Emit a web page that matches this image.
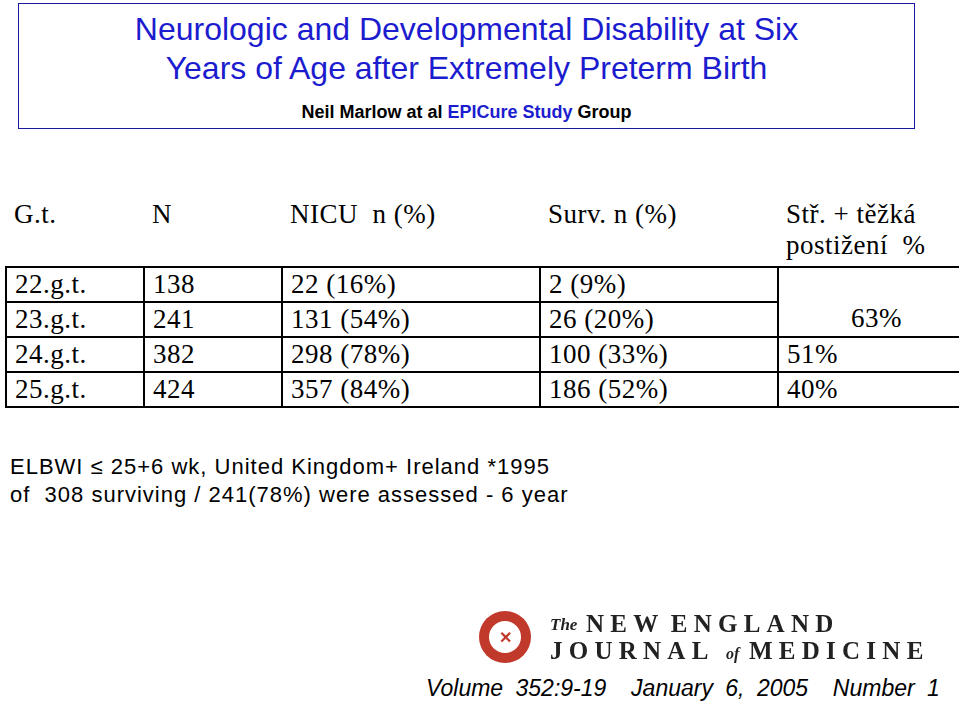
<!DOCTYPE html>
<html><head><meta charset="utf-8">
<script src="https://cdn.jsdelivr.net/npm/chart.js@4"></script>
<style>
body{margin:0;width:959px;height:705px;background:#fff;position:relative;overflow:hidden;font-family:"Liberation Sans",Arial,sans-serif}
#tbox{position:absolute;left:18px;top:3px;width:895px;height:124px;border:1.5px solid #1a1aa0;text-align:center}
#t1{color:#1c1ccf;font-size:32px;line-height:39px;margin-top:6px}
#t2{font-size:18px;font-weight:bold;margin-top:14px}
table{position:absolute;left:5px;top:199px;border-collapse:collapse;table-layout:fixed;width:925px;font-family:"Liberation Serif","Times New Roman",serif;font-size:27px;letter-spacing:0.5px}
td{border:2px solid #000;padding:0 0 0 8px;height:33px;vertical-align:middle;white-space:nowrap}
tr.h td{border:none;height:67px;vertical-align:top;padding-top:0;white-space:normal}
.txt{position:absolute;left:10px;font-size:22px;letter-spacing:1px}
#logo{position:absolute;left:474px;top:610px}
#cite{position:absolute;left:426px;top:675px;font-size:23px;font-style:italic;word-spacing:6px}
</style></head><body>
<div id="tbox"><div id="t1">Neurologic and Developmental Disability at Six<br>Years of Age after Extremely Preterm Birth</div>
<div id="t2">Neil Marlow at al <span style="color:#1c1ccf">EPICure Study</span> Group</div></div>
<table id="tab"></table>
<div class="txt" style="top:454px">ELBWI &le; 25+6 wk, United Kingdom+ Ireland *1995</div>
<div class="txt" style="top:482px">of&nbsp; 308 surviving / 241(78%) were assessed - 6 year</div>
<div id="logo"><canvas id="c" width="485" height="54"></canvas></div>
<div id="cite">Volume 352:9-19&nbsp; January 6, 2005&nbsp; Number 1</div>
<script>
const headers=["G.t.","N","NICU&nbsp; n (%)","Surv. n (%)","Stř. + těžká<br>postižení&nbsp; %"];
const ages=["22.g.t.","23.g.t.","24.g.t.","25.g.t."];
const nTotal=["138","241","382","424"];
const nicu=["22 (16%)","131 (54%)","298 (78%)","357 (84%)"];
const surv=["2 (9%)","26 (20%)","100 (33%)","186 (52%)"];
const disab=["63%",null,"51%","40%"];
const widths=[130,130,250,230,185];
const tab=document.getElementById('tab');
let tr=document.createElement('tr');tr.className='h';
headers.forEach((h,i)=>{const td=document.createElement('td');td.innerHTML=h;td.style.width=widths[i]+'px';tr.appendChild(td);});
tab.appendChild(tr);
ages.forEach((a,r)=>{const tr=document.createElement('tr');
 [a,nTotal[r],nicu[r],surv[r]].forEach(v=>{const td=document.createElement('td');td.textContent=v;tr.appendChild(td);});
 if(r===0){const td=document.createElement('td');td.rowSpan=2;td.textContent=disab[0];td.style.textAlign='right';td.style.paddingRight='68px';td.style.verticalAlign='bottom';td.style.paddingBottom='2px';tr.appendChild(td);}
 else if(disab[r]){const td=document.createElement('td');td.textContent=disab[r];tr.appendChild(td);}
 tab.appendChild(tr);});
const ctx=document.getElementById('c').getContext('2d');
ctx.fillStyle='#c0392b';ctx.beginPath();ctx.arc(31,27,26,0,Math.PI*2);ctx.fill();
ctx.fillStyle='#fff';ctx.beginPath();ctx.arc(31,27,16,0,Math.PI*2);ctx.fill();
ctx.fillStyle='#c0392b';ctx.font='bold 16px serif';ctx.textAlign='center';ctx.fillText('✕',31,33);
ctx.fillStyle='#222';ctx.textAlign='left';
ctx.font='italic bold 17px "Liberation Serif"';ctx.fillText('The',76,20);
ctx.font='bold 25px "Liberation Serif"';ctx.fillText('N E W  E N G L A N D',112,22);
ctx.fillText('J O U R N A L',76,49);ctx.font='italic bold 16px "Liberation Serif"';ctx.fillText('of',252,49);
ctx.font='bold 25px "Liberation Serif"';ctx.fillText('M E D I C I N E',275,49);
</script></body></html>
